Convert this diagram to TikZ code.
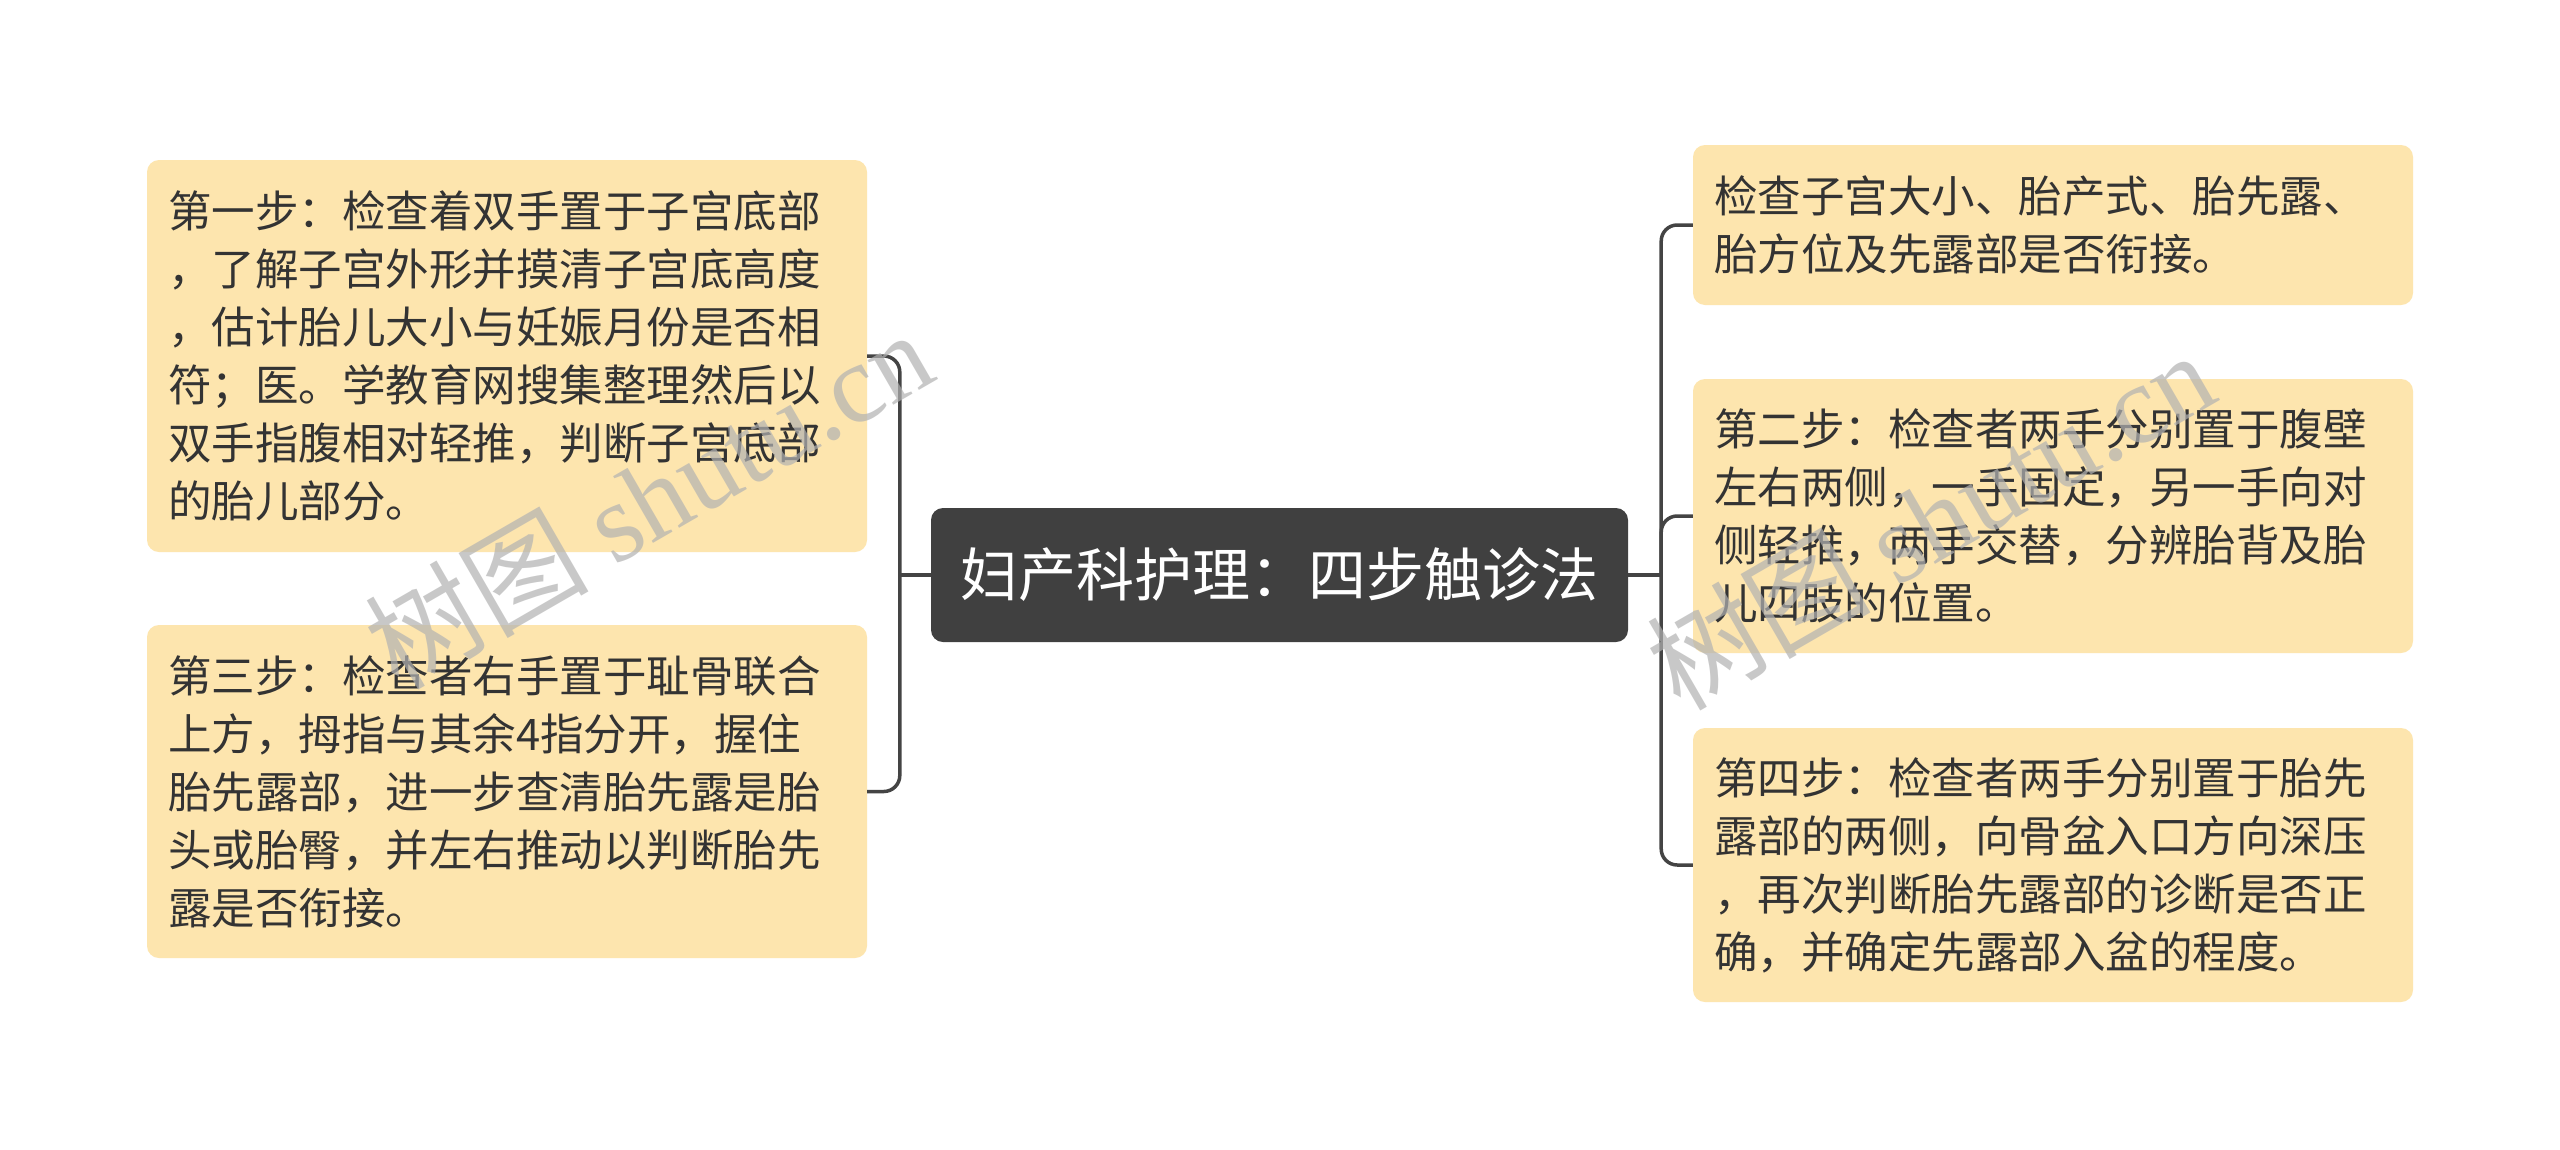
\documentclass[tikz,border=0pt]{standalone}
\usepackage{fontspec}
\setmainfont{Noto Sans CJK SC}
\newfontfamily\wmserif{Liberation Serif}
\definecolor{boxfill}{HTML}{FDE5AE}
\definecolor{txt}{HTML}{333333}
\definecolor{lnc}{HTML}{444444}
\definecolor{cfill}{HTML}{404040}
\begin{document}
\begin{tikzpicture}[x=1pt,y=-1pt,
  leaf/.style={draw=none, fill=boxfill, rounded corners=12pt, text=txt,
    minimum width=720pt, text width=678pt, inner xsep=21pt, inner ysep=0pt,
    align=left, font=\fontsize{43.5}{58}\selectfont},
  root/.style={fill=cfill, rounded corners=12pt, text=white, minimum width=697pt,
    minimum height=134pt, inner sep=0pt, font=\fontsize{58}{70}\selectfont},
  conn/.style={draw=lnc, line width=3.5pt, rounded corners=16pt},
  wm/.style={text=black!30, opacity=0.7, rotate=30, font=\fontsize{112}{120}\selectfont}]
\fill[white] (0,0) rectangle (2560,1149);
\useasboundingbox (0,0) rectangle (2560,1149);

\node[root] (c) at (1279.5,575) {妇产科护理：四步触诊法};

\node[leaf, minimum height=392pt] (l1) at (507,356) {第一步：检查着双手置于子宫底部\\，了解子宫外形并摸清子宫底高度\\，估计胎儿大小与妊娠月份是否相\\符；医。学教育网搜集整理然后以\\双手指腹相对轻推，判断子宫底部\\的胎儿部分。};
\node[leaf, minimum height=333pt] (l3) at (507,791.5) {第三步：检查者右手置于耻骨联合\\上方，拇指与其余4指分开，握住\\胎先露部，进一步查清胎先露是胎\\头或胎臀，并左右推动以判断胎先\\露是否衔接。};

\node[leaf, minimum height=160pt] (r1) at (2053,225) {检查子宫大小、胎产式、胎先露、\\胎方位及先露部是否衔接。};
\node[leaf, minimum height=274pt] (r2) at (2053,516) {第二步：检查者两手分别置于腹壁\\左右两侧，一手固定，另一手向对\\侧轻推，两手交替，分辨胎背及胎\\儿四肢的位置。};
\node[leaf, minimum height=274pt] (r4) at (2053,865) {第四步：检查者两手分别置于胎先\\露部的两侧，向骨盆入口方向深压\\，再次判断胎先露部的诊断是否正\\确，并确定先露部入盆的程度。};

\draw[conn] (c.west) -- ++(-31,0) coordinate (jl);
\draw[conn] (jl) |- (l1.east);
\draw[conn] (jl) |- (l3.east);
\draw[conn] (c.east) -- ++(33,0) coordinate (jr);
\draw[conn] (jr) |- (r1.west);
\draw[conn] (jr) |- (r2.west);
\draw[conn] (jr) |- (r4.west);

\node[wm] (w1) at (648,498) {树图 {\wmserif shutu.cn}};
\node[wm] (w2) at (1930,519) {树图 {\wmserif shutu.cn}};
\end{tikzpicture}
\end{document}
